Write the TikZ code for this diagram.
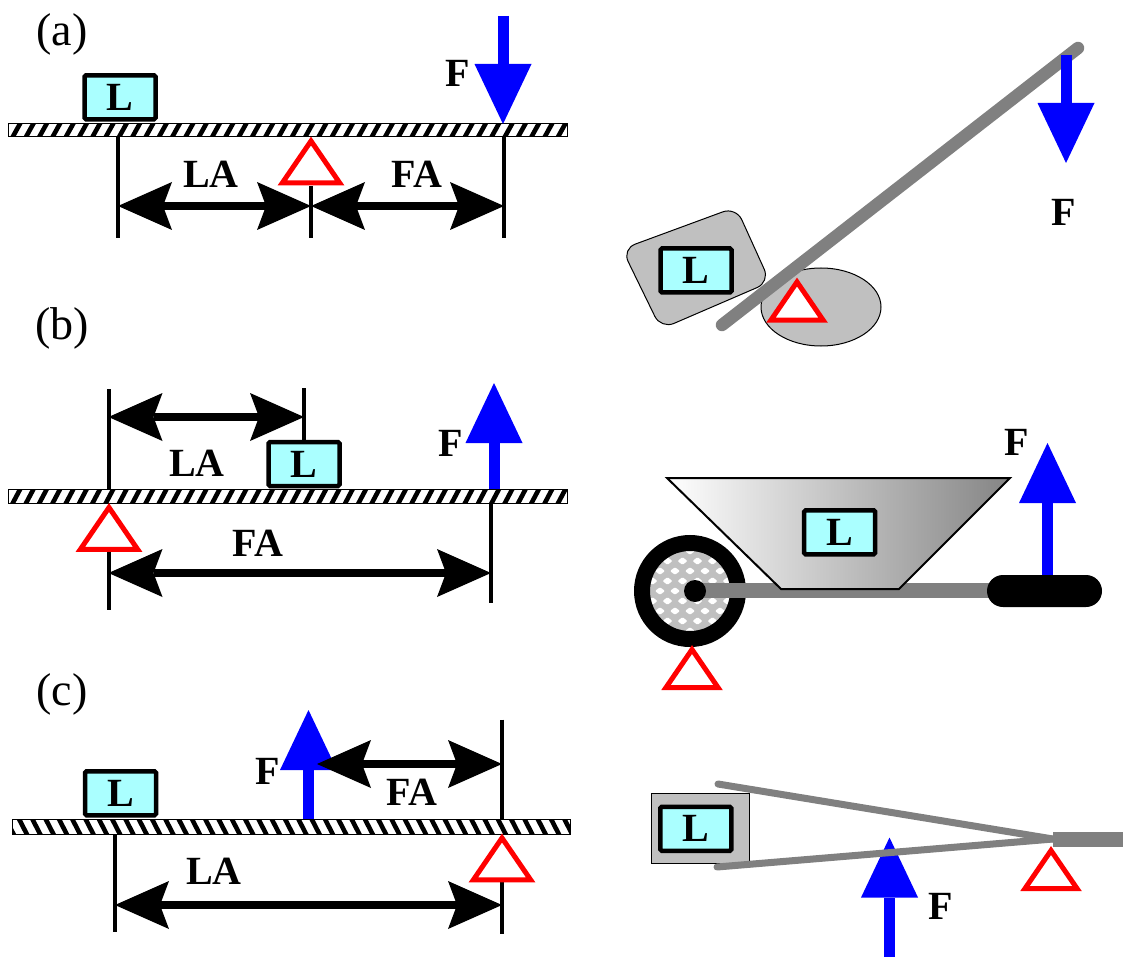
\documentclass[tikz,border=0pt]{standalone}
\usepackage{fontspec}
\setmainfont{Liberation Serif}
\usetikzlibrary{arrows.meta}

\definecolor{LoadFill}{HTML}{AAFFFF}
\definecolor{RockGray}{HTML}{C0C0C0}
\definecolor{BarGray}{HTML}{808080}

\newcommand{\BigBold}{\fontsize{40}{44}\selectfont\bfseries}

% hatched beam: x1, y1, x2, y2, stripe slant
\newcommand{\hatchbeam}[5]{%
  \fill[white] (#1,#2) rectangle (#3,#4);
  \begin{scope}
    \clip (#1,#2) rectangle (#3,#4);
    \foreach \k in {-1,...,43}
      \draw[line width=4.6pt] (#1+13.3*\k+3,#4+3) -- ++(#5,#2-#4-6);
  \end{scope}
  \draw[line width=1pt] (#1,#2) rectangle (#3,#4);
}

% fulcrum triangle hanging from its apex, optional size factor
\newcommand{\pivot}[3][1]{\draw[PivotStyle] (#2,#3) -- ++(-26*#1,38*#1) -- ++(52*#1,0) -- cycle;}

\begin{document}
\begin{tikzpicture}[x=1pt,y=-1pt]
\useasboundingbox (0,0) rectangle (1123,957);

\tikzset{
  LoadStyle/.style = {draw, line width=4.5pt, fill=LoadFill, rounded corners=1.5pt,
    minimum width=71pt, minimum height=44pt, inner sep=0pt, font=\BigBold},
  TextStyle/.style = {inner sep=0pt, font=\BigBold},
  TagStyle/.style = {inner sep=0pt, font=\fontsize{46}{48}\selectfont},
  TickStyle/.style = {line width=4pt},
  DimStyle/.style = {line width=8pt,
    >={Stealth[length=54pt,width=48pt,inset=9pt,line width=0pt]}, <->},
  ForceStyle/.style = {draw=blue, line width=11pt,
    -{Triangle[length=60pt,width=57pt,line width=0pt]}},
  PivotStyle/.style = {draw=red, fill=white, line width=5pt, line join=miter},
  RodStyle/.style = {draw=BarGray, line cap=round},
}

%% (a) first class lever
\node[TagStyle] (TagA) at (62,34) {(a)};
\hatchbeam{8}{123.5}{567}{137}{10.8}
\node[LoadStyle] (LoadA) at (120,97.3) {L};
\draw[TickStyle] (118,137) -- (118,238);
\draw[TickStyle] (311,186) -- (311,238);
\draw[TickStyle] (504,137) -- (504,238);
\pivot[1.1]{311}{141}
\coordinate (A_L) at (118,206);
\coordinate (A_P) at (311,206);
\coordinate (A_F) at (504,206);
\draw[DimStyle] (A_L) -- (A_P);
\draw[DimStyle] (A_P) -- (A_F);
\node[TextStyle] (LA_A) at (211,174) {LA};
\node[TextStyle] (FA_A) at (417,174) {FA};
\coordinate (A_F1) at (503,16);
\coordinate (A_F2) at (503,124);
\draw[ForceStyle] (A_F1) -- (A_F2);
\node[TextStyle] (F_A) at (458,73) {F};

% crowbar on a stone
\filldraw[fill=RockGray, line width=1pt, rounded corners=14pt]
  (622,249) -- (736,207) -- (770,282) -- (661,329) -- cycle;
\filldraw[fill=RockGray, line width=1pt] (821,307) ellipse [x radius=60, y radius=39];
\draw[RodStyle, line width=12.5pt] (722,325) -- (1078,48);
\pivot{797}{282}
\node[LoadStyle] (LoadA2) at (696,270.5) {L};
\coordinate (A2_F1) at (1066,55);
\coordinate (A2_F2) at (1066,163);
\draw[ForceStyle] (A2_F1) -- (A2_F2);
\node[TextStyle] (F_A2) at (1064,212) {F};

%% (b) second class lever
\node[TagStyle] (TagB) at (62,328) {(b)};
\hatchbeam{8}{489}{567}{503.5}{10.8}
\node[LoadStyle] (LoadB) at (304,464) {L};
\draw[TickStyle] (108.5,389) -- (108.5,489);
\draw[TickStyle] (108.5,549) -- (108.5,610);
\draw[TickStyle] (304,388) -- (304,440);
\draw[TickStyle] (491,503.5) -- (491,603);
\pivot[1.1]{109}{507.5}
\coordinate (B_L1) at (108.5,417);
\coordinate (B_L2) at (304,417);
\coordinate (B_P) at (108.5,573);
\coordinate (B_F) at (491,573);
\draw[DimStyle] (B_L1) -- (B_L2);
\draw[DimStyle] (B_P) -- (B_F);
\node[TextStyle] (LA_B) at (197,463) {LA};
\node[TextStyle] (FA_B) at (258,543) {FA};
\coordinate (B_F1) at (494,489);
\coordinate (B_F2) at (494,383);
\draw[ForceStyle] (B_F1) -- (B_F2);
\node[TextStyle] (F_B) at (451,443) {F};

% wheelbarrow
\begin{scope}
  \clip (690,591) circle [radius=41];
  \fill[RockGray] (690,591) circle [radius=41];
  \foreach \r in {-5,...,5}
    \foreach \c in {-4,...,4}
      \fill[white, rounded corners=1pt] ({690+15*\c+7.5*mod(\r+10,2)},{591+10*\r})
        ++(-5,0) -- ++(5,-3.8) -- ++(5,3.8) -- ++(-5,3.8) -- cycle;
\end{scope}
\draw[line width=16pt] (690,591) circle [radius=48];
\draw[BarGray, line width=15.5pt] (690,590.5) -- (995,590.5);
\shadedraw[left color=white, right color=black!48, line width=2pt]
  (667,478) -- (1010,478) -- (899,589) -- (781,589) -- cycle;
\fill (695,591) circle [radius=11];
\fill[rounded corners=16pt] (987,575) rectangle (1102,607);
\node[LoadStyle] (LoadB2) at (839.7,532.3) {L};
\pivot{692}{649.5}
\coordinate (B2_F1) at (1047.5,575);
\coordinate (B2_F2) at (1047.5,443);
\draw[ForceStyle] (B2_F1) -- (B2_F2);
\node[TextStyle] (F_B2) at (1017,442) {F};

%% (c) third class lever
\node[TagStyle] (TagC) at (62,694) {(c)};
\hatchbeam{12}{819}{570}{834}{-10.8}
\node[LoadStyle] (LoadC) at (120.5,793.3) {L};
\coordinate (C_F1) at (308.5,819);
\coordinate (C_F2) at (308.5,710);
\draw[ForceStyle] (C_F1) -- (C_F2);
\node[TextStyle] (F_C) at (268,771) {F};
\draw[TickStyle] (502,719.5) -- (502,819);
\draw[TickStyle] (502,880) -- (502,934);
\draw[TickStyle] (115,834) -- (115,932);
\pivot[1.1]{502}{838}
\coordinate (C_A) at (317,764);
\coordinate (C_P1) at (502,764);
\coordinate (C_L) at (115,905);
\coordinate (C_P2) at (502,905);
\draw[DimStyle] (C_A) -- (C_P1);
\draw[DimStyle] (C_L) -- (C_P2);
\node[TextStyle] (FA_C) at (412,792) {FA};
\node[TextStyle] (LA_C) at (214,871) {LA};

% tongs
\filldraw[fill=RockGray, line width=1pt] (651,793) rectangle (749,863);
\node[LoadStyle] (LoadC2) at (695.8,828.8) {L};
\coordinate (C2_F1) at (889.5,957);
\coordinate (C2_F2) at (889.5,837.5);
\draw[ForceStyle] (C2_F1) -- (C2_F2);
\node[TextStyle] (F_C2) at (941,906) {F};
\draw[RodStyle, line width=7pt] (718,784) -- (1053,839);
\draw[RodStyle, line width=7pt] (717,867) -- (1053,839);
\draw[BarGray, line width=15.5pt] (1053,839.5) -- (1123,839.5);
\pivot{1051}{850.5}

\end{tikzpicture}
\end{document}
